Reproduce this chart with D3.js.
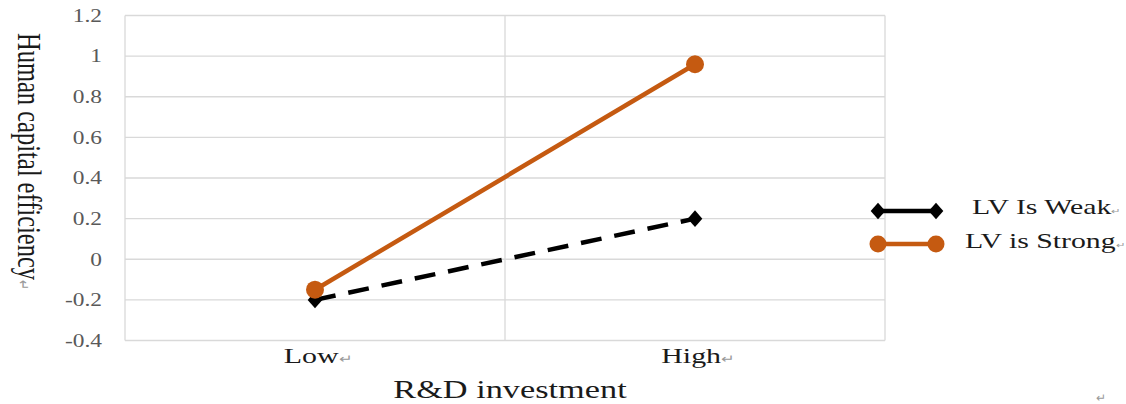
<!DOCTYPE html>
<html><head><meta charset="utf-8">
<script src="https://cdn.jsdelivr.net/npm/d3@7"></script>
<style>body{margin:0;background:#fff}svg{display:block}</style>
</head><body>
<svg id="c" width="1126" height="404"></svg>
<script>
const categories = ["Low", "High"];
const weakValues = [-0.2, 0.2];
const strongValues = [-0.15, 0.96];
const yTicks = [-0.4, -0.2, 0, 0.2, 0.4, 0.6, 0.8, 1, 1.2];
const seriesNames = ["LV Is Weak", "LV is Strong"];

const svg = d3.select("#c");
const font = "'Liberation Serif', 'Times New Roman', serif";
const L = 125, R = 885, T = 15.5, B = 340.5;
const SX = 1.36; // horizontal stretch of the source picture's text
const x = d3.scaleBand().domain(categories).range([L, R]);
const y = d3.scaleLinear().domain([-0.4, 1.2]).range([B, T]);
const grid = "#d9d9d9";

svg.append("g").selectAll("line").data(yTicks).join("line")
  .attr("x1", L).attr("x2", R).attr("y1", d => y(d)).attr("y2", d => y(d))
  .attr("stroke", grid).attr("stroke-width", 1.3);
const edges = [L, ...categories.map(c => x(c) + x.bandwidth())];
svg.append("g").selectAll("line").data(edges).join("line")
  .attr("x1", d => d).attr("x2", d => d).attr("y1", T).attr("y2", B)
  .attr("stroke", grid).attr("stroke-width", 1.3);

// y tick labels
svg.append("g").selectAll("text").data(yTicks).join("text")
  .attr("transform", d => `translate(102,${y(d)}) scale(1.3,1)`)
  .attr("dy", "0.35em")
  .attr("text-anchor", "end").attr("font-family", font).attr("font-size", 18)
  .attr("fill", "#595959").text(d => d3.format("")(d).replace("−", "-"));

// x labels
const xl = svg.append("g").selectAll("text").data(categories).join("text")
  .attr("transform", d => `translate(${x(d) + x.bandwidth() / 2 + 3},363) scale(${SX},1)`)
  .attr("text-anchor", "middle").attr("font-family", font).attr("font-size", 22)
  .attr("fill", "#1a1a1a");
xl.append("tspan").text(d => d);
xl.append("tspan").attr("font-size", 12).attr("fill", "#999").text("↵");

// axis titles
svg.append("text").attr("transform", `translate(510,398) scale(1.4,1)`).attr("text-anchor", "middle")
  .attr("font-family", font).attr("font-size", 24.5).attr("fill", "#1a1a1a")
  .text("R&D investment");
const yt = svg.append("text").attr("transform", `translate(18,33) scale(${SX},1) rotate(90)`)
  .attr("font-family", font).attr("font-size", 24.5).attr("fill", "#1a1a1a");
yt.append("tspan").text("Human capital efficiency");
yt.append("tspan").attr("font-size", 12).attr("fill", "#999").text("↵");

const cx = d => x(d) + x.bandwidth() / 2;
const line = d3.line().x(d => cx(d[0])).y(d => y(d[1]));
const weak = categories.map((c, i) => [c, weakValues[i]]);
const strong = categories.map((c, i) => [c, strongValues[i]]);

svg.append("path").attr("d", line(weak)).attr("fill", "none")
  .attr("stroke", "#000").attr("stroke-width", 4.5).attr("stroke-dasharray", "21,13");
const diamond = d3.symbol().type(d3.symbolDiamond).size(110);
svg.append("g").selectAll("path").data(weak).join("path")
  .attr("transform", d => `translate(${cx(d[0])},${y(d[1])}) scale(1.3,0.85)`)
  .attr("d", diamond).attr("fill", "#000");

const orange = "#C55A11";
svg.append("path").attr("d", line(strong)).attr("fill", "none")
  .attr("stroke", orange).attr("stroke-width", 4.5);
svg.append("g").selectAll("circle").data(strong).join("circle")
  .attr("cx", d => cx(d[0])).attr("cy", d => y(d[1])).attr("r", 9).attr("fill", orange);

// legend
const lg = svg.append("g");
const ly = [211, 244];
lg.append("line").attr("x1", 878).attr("x2", 936).attr("y1", ly[0]).attr("y2", ly[0])
  .attr("stroke", "#000").attr("stroke-width", 4.5);
[878, 936].forEach(px => lg.append("path").attr("d", diamond)
  .attr("transform", `translate(${px},${ly[0]}) scale(1.3,0.85)`).attr("fill", "#000"));
lg.append("line").attr("x1", 878).attr("x2", 936).attr("y1", ly[1]).attr("y2", ly[1])
  .attr("stroke", orange).attr("stroke-width", 4.5);
[878, 936].forEach(px => lg.append("circle").attr("cx", px).attr("cy", ly[1]).attr("r", 8.5).attr("fill", orange));
const lt = lg.selectAll("text.l").data(seriesNames).join("text")
  .attr("transform", (d, i) => `translate(${i === 0 ? 972 : 965},${i === 0 ? 214 : 248}) scale(1.42,1)`)
  .attr("font-family", font).attr("font-size", 21).attr("fill", "#1a1a1a");
lt.append("tspan").text(d => d);
lt.append("tspan").attr("font-size", 8).attr("fill", "#999").text("↵");

svg.append("text").attr("x", 1096).attr("y", 402).attr("font-family", font)
  .attr("font-size", 12).attr("fill", "#999").text("↵");
</script>
</body></html>
